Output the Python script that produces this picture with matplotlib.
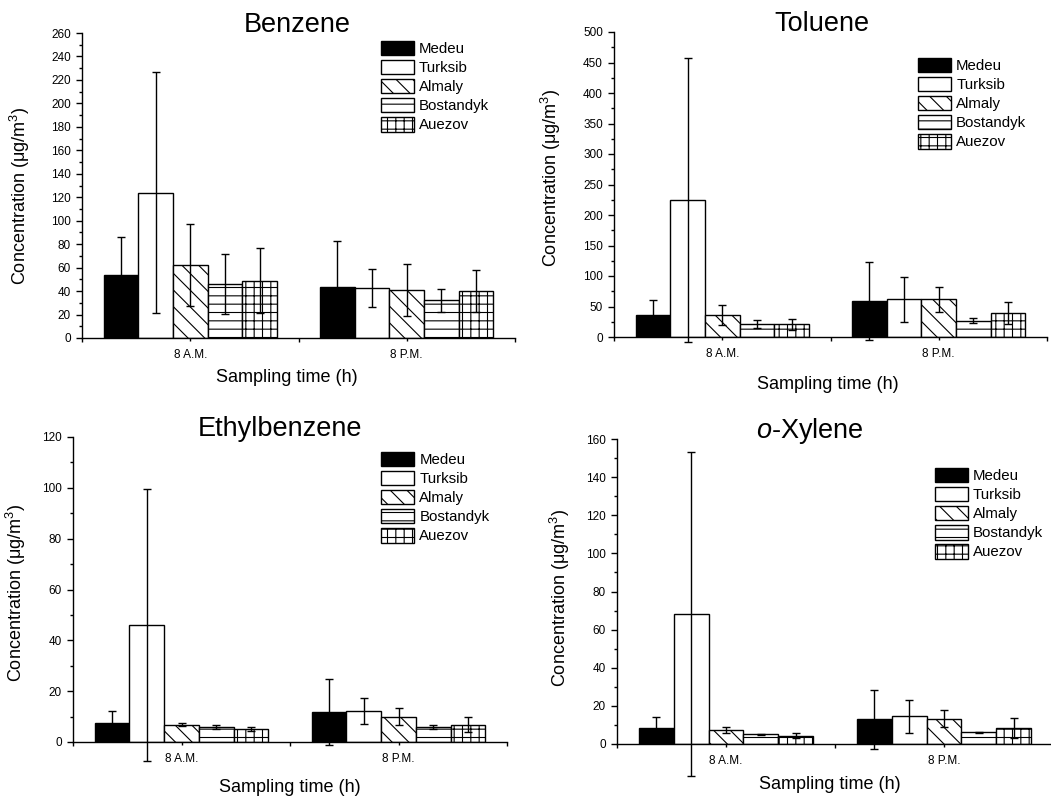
import numpy as np
import matplotlib
matplotlib.use('Agg')
import matplotlib.pyplot as plt
from matplotlib.ticker import MultipleLocator, FixedLocator

plt.rcParams['font.family'] = ['Liberation Sans', 'DejaVu Sans']
plt.rcParams['mathtext.fontset'] = 'custom'
plt.rcParams['mathtext.rm'] = 'Liberation Sans'
plt.rcParams['mathtext.it'] = 'Liberation Sans:italic'
plt.rcParams['hatch.linewidth'] = 0.8

# Data (mean and standard deviation, ug/m3)
sites = ['Medeu', 'Turksib', 'Almaly', 'Bostandyk', 'Auezov']
times = ['8 A.M.', '8 P.M.']

benzene_am = [54, 124, 62, 46, 49]
benzene_am_sd = [32, 103, 35, 25.5, 28]
benzene_pm = [43.5, 42.6, 41, 32, 40]
benzene_pm_sd = [39, 16, 22, 9.5, 18]

toluene_am = [35.5, 225, 36, 21.5, 21]
toluene_am_sd = [25, 233, 16.5, 6, 9]
toluene_pm = [59, 61.5, 61.5, 27, 39]
toluene_pm_sd = [64.5, 36.5, 21, 4.5, 18.5]

ethylbenzene_am = [7.6, 46, 6.8, 5.8, 5.1]
ethylbenzene_am_sd = [4.5, 53.4, 0.7, 0.7, 0.7]
ethylbenzene_pm = [11.8, 12.3, 10, 5.9, 6.8]
ethylbenzene_pm_sd = [13.1, 5.1, 3.4, 0.9, 2.9]

xylene_am = [8.2, 68.4, 7.5, 5.1, 4.4]
xylene_am_sd = [6, 85, 1.6, 0.4, 1.5]
xylene_pm = [12.9, 14.5, 13.3, 6.1, 8.6]
xylene_pm_sd = [15.6, 8.8, 4.5, 0.4, 5.2]

# Bar styles per site
face_colors = ['black', 'white', 'white', 'white', 'white']
hatches = [None, None, '\\\\', '--', '++']

# Panel layout: title, data, axes rect, y range, tick steps, text positions
panels = [
    dict(title='Benzene', am=benzene_am, am_sd=benzene_am_sd, pm=benzene_pm, pm_sd=benzene_pm_sd,
         rect=[82 / 1051, 1 - 338 / 796, 433 / 1051, 305 / 796], ymax=260, major=20, minor=10,
         title_x=0.497, leg=(0.69, 0.974), ylab=(-0.115, 0.466), xlab=(0.473, -0.10)),
    dict(title='Toluene', am=toluene_am, am_sd=toluene_am_sd, pm=toluene_pm, pm_sd=toluene_pm_sd,
         rect=[614 / 1051, 1 - 337 / 796, 433 / 1051, 305 / 796], ymax=500, major=50, minor=25,
         title_x=0.48, leg=(0.702, 0.915), ylab=(-0.118, 0.52), xlab=(0.494, -0.128)),
    dict(title='Ethylbenzene', am=ethylbenzene_am, am_sd=ethylbenzene_am_sd, pm=ethylbenzene_pm,
         pm_sd=ethylbenzene_pm_sd,
         rect=[73 / 1051, 1 - 742 / 796, 434 / 1051, 305 / 796], ymax=120, major=20, minor=10,
         title_x=0.477, leg=(0.71, 0.951), ylab=(-0.104, 0.49), xlab=(0.5, -0.121)),
    dict(title=r'$\it{o}$-Xylene', am=xylene_am, am_sd=xylene_am_sd, pm=xylene_pm, pm_sd=xylene_pm_sd,
         rect=[617 / 1051, 1 - 744 / 796, 436 / 1051, 305 / 796], ymax=160, major=20, minor=10,
         title_x=0.443, leg=(0.729, 0.905), ylab=(-0.103, 0.48), xlab=(0.489, -0.105)),
]

fig = plt.figure(figsize=(10.51, 7.96), dpi=100)

bar_w = 0.16
group_x = np.arange(1, len(times) + 1)

for p in panels:
    ax = fig.add_axes(p['rect'])
    means = np.array([p['am'], p['pm']])
    sds = np.array([p['am_sd'], p['pm_sd']])

    for i, site in enumerate(sites):
        xs = group_x - 0.4 + bar_w * (i + 0.5)
        ax.bar(xs, means[:, i], width=bar_w, color=face_colors[i], edgecolor='black',
               linewidth=1.0, hatch=hatches[i], label=site, zorder=2)
        eb = ax.errorbar(xs, means[:, i], yerr=sds[:, i], fmt='none', ecolor='black',
                         elinewidth=1.0, capsize=3, capthick=1.0, zorder=3)
        # error bars run past the axis line in the original
        for art in list(eb.lines[1]) + list(eb.lines[2]):
            art.set_clip_on(False)

    # Axes styling: only left and bottom spines, as in the original
    ax.spines['top'].set_visible(False)
    ax.spines['right'].set_visible(False)
    ax.spines['left'].set_linewidth(1.0)
    ax.spines['bottom'].set_linewidth(1.0)

    ax.set_xlim(0.5, 2.5)
    ax.set_ylim(0, p['ymax'])
    ax.yaxis.set_major_locator(MultipleLocator(p['major']))
    ax.yaxis.set_minor_locator(MultipleLocator(p['minor']))
    ax.tick_params(axis='y', which='major', length=4, width=1, labelsize=8.5, pad=4)
    ax.tick_params(axis='y', which='minor', length=2.2, width=1)

    ax.set_xticks(group_x)
    ax.set_xticklabels(times)
    ax.xaxis.set_minor_locator(FixedLocator([0.5, 1.5, 2.5]))
    ax.tick_params(axis='x', which='major', length=2.2, width=1, labelsize=8.5, pad=6)
    ax.tick_params(axis='x', which='minor', length=3, width=1)

    ax.set_ylabel(r'Concentration (μg/m$^3$)', fontsize=13)
    ax.yaxis.set_label_coords(*p['ylab'])
    ax.set_xlabel('Sampling time (h)', fontsize=13)
    ax.xaxis.set_label_coords(*p['xlab'])

    ax.text(p['title_x'], 1.004, p['title'], transform=ax.transAxes, ha='center',
            va='baseline', fontsize=19.5)

    ax.legend(loc='upper left', bbox_to_anchor=p['leg'], frameon=False, fontsize=10.8,
              handlelength=2.2, handleheight=1.1, labelspacing=0.25, handletextpad=0.35,
              borderpad=0, borderaxespad=0)

fig.savefig('out.png', dpi=100)
